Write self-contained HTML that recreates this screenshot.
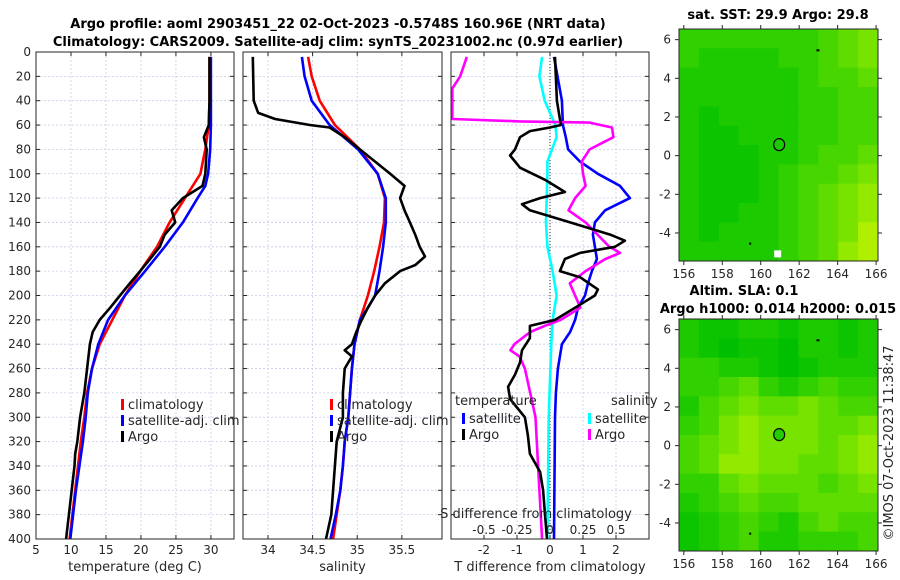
<!DOCTYPE html>
<html><head><meta charset="utf-8">
<style>
html,body{margin:0;padding:0;background:#fff;}
svg{display:block;font-family:"DejaVu Sans","Liberation Sans",sans-serif;}
</style></head>
<body>
<svg id="fig" width="900" height="580" viewBox="0 0 900 580" xmlns="http://www.w3.org/2000/svg">
<text x="338" y="28" font-size="13" font-weight="bold" text-anchor="middle" fill="#000">Argo profile: aoml 2903451_22 02-Oct-2023 -0.5748S 160.96E (NRT data)</text>
<text x="338" y="46" font-size="13" font-weight="bold" text-anchor="middle" fill="#000">Climatology: CARS2009. Satellite-adj clim: synTS_20231002.nc (0.97d earlier)</text>
<g id="g"></g>
</svg>
<script>
// ---------- data ----------
const depthTicks = [0,20,40,60,80,100,120,140,160,180,200,220,240,260,280,300,320,340,360,380,400];
const tempTicks = [5,10,15,20,25,30];
const salTicks = [34,34.5,35,35.5];
const tdiffTicks = [-2,-1,0,1,2];
const sdiffTicks = [-0.5,-0.25,0,0.25,0.5];
const sdiffLabels = ["-0.5","-0.25","0","0.25","0.5"];

const tClimDepth = [4,20,40,60,80,100,120,140,160,180,200,220,240,260,280,300,320,340,360,380,400];
const tClimVal   = [29.8,29.8,29.8,29.7,29.2,28.5,26.3,24.1,22.3,19.9,17.7,15.9,14.1,13.0,12.3,11.9,11.4,11.0,10.6,10.2,9.8];
const tSatDepth  = [4,20,40,60,80,100,110,120,140,160,180,200,220,240,260,280,300,320,340,360,380,400];
const tSatVal    = [30.0,30.0,30.0,30.0,29.9,29.6,29.2,28.1,26.0,23.4,20.6,17.7,15.3,13.9,13.0,12.4,12.1,11.7,11.2,10.7,10.3,9.9];
const tArgoDepth = [4,20,40,60,70,80,100,110,120,130,140,150,160,170,180,190,200,210,220,230,240,260,280,300,320,330,340,360,380,400];
const tArgoVal   = [29.8,29.8,29.8,29.7,29.0,29.4,29.2,28.8,26.0,24.4,24.9,23.4,22.7,21.3,19.9,18.4,17.0,15.6,14.1,13.1,12.7,12.3,11.9,11.3,10.9,10.6,10.5,10.1,9.7,9.3];

const sClimDepth = [4,20,40,60,80,100,120,140,160,180,200,220,240,260,280,300,320,340,360,380,400];
const sClimVal   = [34.45,34.49,34.58,34.75,35.03,35.23,35.31,35.30,35.25,35.19,35.12,35.03,34.97,34.94,34.92,34.90,34.86,34.84,34.81,34.77,34.73];
const sSatDepth  = [4,20,40,60,80,100,120,140,160,180,200,210,220,240,260,280,300,320,340,360,380,400];
const sSatVal    = [34.38,34.41,34.49,34.69,35.01,35.23,35.32,35.32,35.29,35.25,35.20,35.12,35.03,34.97,34.94,34.92,34.90,34.86,34.84,34.81,34.76,34.70];
const sArgoDepth = [4,40,50,55,60,62,70,80,90,100,110,120,130,140,150,160,168,175,180,190,200,210,220,230,240,245,250,260,280,300,320,340,360,380,400];
const sArgoVal   = [33.83,33.84,33.89,34.08,34.47,34.69,34.86,35.03,35.20,35.37,35.53,35.48,35.53,35.59,35.65,35.70,35.76,35.65,35.48,35.31,35.20,35.12,35.05,34.99,34.94,34.86,34.94,34.86,34.84,34.84,34.77,34.75,34.73,34.71,34.65];

const dTSatDepth = [4,40,60,70,80,90,100,110,120,130,140,150,160,170,180,190,200,210,220,230,240,250,260,280,300,400];
const dTSatVal   = [0.12,0.36,0.39,0.48,0.55,0.91,1.45,2.12,2.42,1.67,1.36,1.30,1.36,1.42,1.27,1.15,1.06,0.85,0.76,0.61,0.36,0.30,0.24,0.18,0.15,0.12];
const dTArgoDepth= [4,40,60,62,65,70,80,85,95,105,110,115,120,125,130,140,150,155,160,165,170,180,185,195,200,210,220,225,235,245,255,265,275,285,300,315,330,345,360,380,400];
const dTArgoVal  = [0.15,0.21,0.33,0,-0.61,-0.91,-1.06,-1.21,-0.91,-0.15,0.15,0.45,-0.30,-0.85,-0.61,0.61,1.82,2.27,1.97,0.91,0.45,0.30,0.91,1.45,1.36,0.76,0.15,-0.61,-0.61,-0.85,-0.91,-1.06,-1.27,-1.21,-0.76,-0.67,-0.61,-0.30,-0.21,-0.15,-0.09];
const dSSatDepth = [4,20,40,60,70,90,100,140,160,180,200,220,240,300,400];
const dSSatVal   = [-0.06,-0.08,-0.04,0.04,0.05,-0.02,-0.02,-0.03,-0.02,0.02,0.05,0.02,0.01,-0.01,-0.02];
const dSArgoDepth= [4,20,30,55,57,58,62,70,80,90,100,110,120,130,140,150,160,165,170,180,190,200,210,220,225,230,240,245,250,260,280,300,340,360,400];
const dSArgoVal  = [-0.63,-0.68,-0.74,-0.74,-0.23,0.30,0.47,0.48,0.30,0.24,0.25,0.27,0.19,0.14,0.27,0.36,0.45,0.53,0.42,0.27,0.15,0.19,0.23,0.08,-0.04,-0.15,-0.27,-0.30,-0.23,-0.19,-0.15,-0.11,-0.09,-0.08,-0.06];

const mapLonTicks = [156,158,160,162,164,166];
const mapLatTicks = [-4,-2,0,2,4,6];
const sstGrid = [
[3,3,3,3,3,3,3,4,5,6],[3,2,2,2,2,3,3,4,5,6],[2,2,2,2,2,2,3,4,4,5],[2,2,2,2,2,2,3,3,4,4],
[2,1,2,2,2,2,3,3,4,4],[2,1,1,2,2,2,3,3,4,4],[2,1,1,1,2,2,3,4,4,5],[2,1,1,1,2,3,4,4,5,6],
[2,1,1,1,2,3,4,5,6,7],[2,1,1,2,2,3,4,5,6,7],[2,1,2,2,2,3,4,5,6,8],[2,2,2,2,2,3,4,5,7,8]];
const slaGrid = [
[2,1,1,2,2,1,2,2,1,2],[2,1,0,1,1,0,2,2,1,2],[3,3,2,2,1,0,1,2,2,2],[3,3,4,5,3,2,3,4,3,3],
[2,4,5,6,5,5,6,5,4,4],[3,4,6,7,6,6,6,5,5,6],[4,5,6,7,6,6,6,5,6,7],[4,5,7,7,6,6,5,5,6,7],
[3,3,5,6,5,5,5,4,5,6],[2,3,4,5,4,4,5,5,5,5],[1,2,3,4,3,2,4,5,4,4],[1,2,3,4,2,2,3,3,3,4]];
const argoLon = 160.96, argoLat = 0.57;

// ---------- drawing ----------
const NS='http://www.w3.org/2000/svg';
const G=document.getElementById('g');
function el(tag,attrs,parent){const e=document.createElementNS(NS,tag);for(const k in attrs)e.setAttribute(k,attrs[k]);(parent||G).appendChild(e);return e;}
function txt(x,y,s,size,anchor,parent){const t=el('text',{x:x,y:y,'font-size':size||12,'text-anchor':anchor||'middle',fill:'#262626'},parent);t.textContent=s;return t;}
const TOP=52,BOT=539;
const yD=d=>TOP+(d/400)*(BOT-TOP);

function panel(name,x0,x1,vmin,vmax,xticks,xlabels,xtitle,showY){
  const g=el('g',{});
  
  
  const sx=v=>x0+(v-vmin)/(vmax-vmin)*(x1-x0);
  depthTicks.forEach(d=>{
    const l=el('line',{x1:x0,x2:x1,y1:yD(d),y2:yD(d),stroke:'#c8cce8','stroke-width':0.8,'stroke-dasharray':'2,2'},g);
    
    el('line',{x1:x0,x2:x0+4,y1:yD(d),y2:yD(d),stroke:'#262626'},g);
    el('line',{x1:x1-4,x2:x1,y1:yD(d),y2:yD(d),stroke:'#262626'},g);
    if(showY){const t=txt(x0-5,yD(d)+4,String(d),12,'end',g);
      }
  });
  xticks.forEach((v,i)=>{
    const x=sx(v);
    if(x>x0+1&&x<x1-1){const l=el('line',{x1:x,x2:x,y1:TOP,y2:BOT,stroke:'#c8cce8','stroke-width':0.8,'stroke-dasharray':'2,2'},g);
      }
    el('line',{x1:x,x2:x,y1:BOT-4,y2:BOT,stroke:'#262626'},g);
    el('line',{x1:x,x2:x,y1:TOP,y2:TOP+4,stroke:'#262626'},g);
    const t=txt(x,BOT+15,xlabels[i],12,'middle',g);
    
  });
  const tt=txt((x0+x1)/2,BOT+32,xtitle,13,'middle',g);
  
  return {g,sx};
}
function series(p,sx,depths,vals,color,name){
  const pts=depths.map((d,i)=>sx(vals[i]).toFixed(1)+','+yD(d).toFixed(1)).join(' ');
  const l=el('polyline',{points:pts,fill:'none',stroke:color,'stroke-width':2.6,'stroke-linejoin':'round'},p);
  
}
function frame(p,x0,x1){el('rect',{x:x0,y:TOP,width:x1-x0,height:BOT-TOP,fill:'none',stroke:'#262626','stroke-width':1},p);}
function legend(p,x,y,items){
  items.forEach((it,i)=>{
    const yy=y+i*16;
    const b=el('rect',{x:x,y:yy-9,width:3,height:11,fill:it[1]},p);
    
    const t=txt(x+7,yy+1,it[0],13,'start',p);
    
  });
}

const P1=panel('temperature-panel',36,234,5,33.3,tempTicks,tempTicks.map(String),'temperature (deg C)',true);
series(P1.g,P1.sx,tClimDepth,tClimVal,'#ff0000','temp-climatology-line');
series(P1.g,P1.sx,tSatDepth,tSatVal,'#0000ff','temp-satellite-line');
series(P1.g,P1.sx,tArgoDepth,tArgoVal,'#000000','temp-argo-line');
legend(P1.g,121,408,[['climatology','#ff0000'],['satellite-adj. clim','#0000ff'],['Argo','#000']]);
frame(P1.g,36,234);

const P2=panel('salinity-panel',243,442,33.72,35.95,salTicks,salTicks.map(String),'salinity',false);
series(P2.g,P2.sx,sClimDepth,sClimVal,'#ff0000','sal-climatology-line');
series(P2.g,P2.sx,sSatDepth,sSatVal,'#0000ff','sal-satellite-line');
series(P2.g,P2.sx,sArgoDepth,sArgoVal,'#000000','sal-argo-line');
legend(P2.g,330,408,[['climatology','#ff0000'],['satellite-adj. clim','#0000ff'],['Argo','#000']]);
frame(P2.g,243,442);

const P3=panel('difference-panel',451,649,-3,3,tdiffTicks,tdiffTicks.map(String),'T difference from climatology',false);
const sxS=v=>451+(v+0.75)/1.5*(649-451);
el('line',{x1:P3.sx(0),x2:P3.sx(0),y1:TOP,y2:BOT,stroke:'#333','stroke-width':1,'stroke-dasharray':'1,2'},P3.g);
series(P3.g,sxS,dSSatDepth,dSSatVal,'#00ffff','sdiff-satellite-line');
series(P3.g,P3.sx,dTSatDepth,dTSatVal,'#0000ff','tdiff-satellite-line');
series(P3.g,sxS,dSArgoDepth,dSArgoVal,'#ff00ff','sdiff-argo-line');
series(P3.g,P3.sx,dTArgoDepth,dTArgoVal,'#000000','tdiff-argo-line');
{const t=txt(455,405,'temperature',13,'start',P3.g);}
{const t=txt(611,405,'salinity',13,'start',P3.g);}
legend(P3.g,462,422,[['satellite','#0000ff'],['Argo','#000']]);
legend(P3.g,588,422,[['satellite','#00ffff'],['Argo','#ff00ff']]);
{const t=txt(536,518,'S difference from climatology',13,'middle',P3.g);}
sdiffTicks.forEach((v,i)=>{const t=txt(sxS(v),534,sdiffLabels[i],12,'middle',P3.g);
  });
frame(P3.g,451,649);

function color(v){const a=v/9;return `rgb(${Math.round(205*Math.pow(a,1.3))},${Math.round(190+55*a)},0)`;}
function map(name,y0,grid,circleFill){
  const x0=679,x1=878,y1=y0+232;
  const g=el('g',{});
  
  const lonMin=155.75,lonMax=166.1,latMax=6.55,latMin=-5.45;
  const sx=v=>x0+(v-lonMin)/(lonMax-lonMin)*(x1-x0);
  const sy=v=>y0+(latMax-v)/(latMax-latMin)*(y1-y0);
  const rows=grid.length,cols=grid[0].length,cw=(x1-x0)/cols,ch=(y1-y0)/rows;
  grid.forEach((r,i)=>r.forEach((v,j)=>{
    const c=el('rect',{x:x0+j*cw,y:y0+i*ch,width:cw+0.5,height:ch+0.5,fill:color(v)},g);
    
  }));
  el('rect',{x:sx(162.9),y:sy(5.5),width:3,height:2,fill:'#000'},g);
  el('rect',{x:sx(159.4),y:sy(-4.5),width:2,height:2,fill:'#000'},g);
  const c=el('ellipse',{cx:sx(argoLon),cy:sy(argoLat),rx:5.5,ry:6,fill:circleFill,stroke:'#000','stroke-width':1.2},g);
  
  el('rect',{x:x0,y:y0,width:x1-x0,height:y1-y0,fill:'none',stroke:'#262626'},g);
  mapLonTicks.forEach(v=>{el('line',{x1:sx(v),x2:sx(v),y1:y1,y2:y1+4,stroke:'#262626'},g);el('line',{x1:sx(v),x2:sx(v),y1:y0-4,y2:y0,stroke:'#262626'},g);
    const t=txt(sx(v),y1+17,String(v),12,'middle',g);});
  mapLatTicks.forEach(v=>{el('line',{x1:x0-4,x2:x0,y1:sy(v),y2:sy(v),stroke:'#262626'},g);el('line',{x1:x1,x2:x1+4,y1:sy(v),y2:sy(v),stroke:'#262626'},g);
    const t=txt(x0-8,sy(v)+4,String(v),12,'end',g);});
  return {g,sx,sy};
}
const M1=map('sst-map',29,sstGrid,'none');
el('rect',{x:M1.sx(160.7),y:M1.sy(-4.9),width:7,height:7,fill:'#fff'},M1.g);
map('sla-map',319,slaGrid,'#22cc00');
{const t=txt(778,19,'sat. SST: 29.9 Argo: 29.8',13,'middle');t.setAttribute('font-weight','bold');t.setAttribute('fill','#000');}
{const t=txt(744,295,'Altim. SLA: 0.1',13,'middle');t.setAttribute('font-weight','bold');t.setAttribute('fill','#000');}
{const t=txt(778,313,'Argo h1000: 0.014 h2000: 0.015',13,'middle');t.setAttribute('font-weight','bold');t.setAttribute('fill','#000');}
{const t=txt(0,0,'©IMOS 07-Oct-2023 11:38:47',13,'middle');t.setAttribute('transform','translate(893,443) rotate(-90)');}
</script>
</body></html>
